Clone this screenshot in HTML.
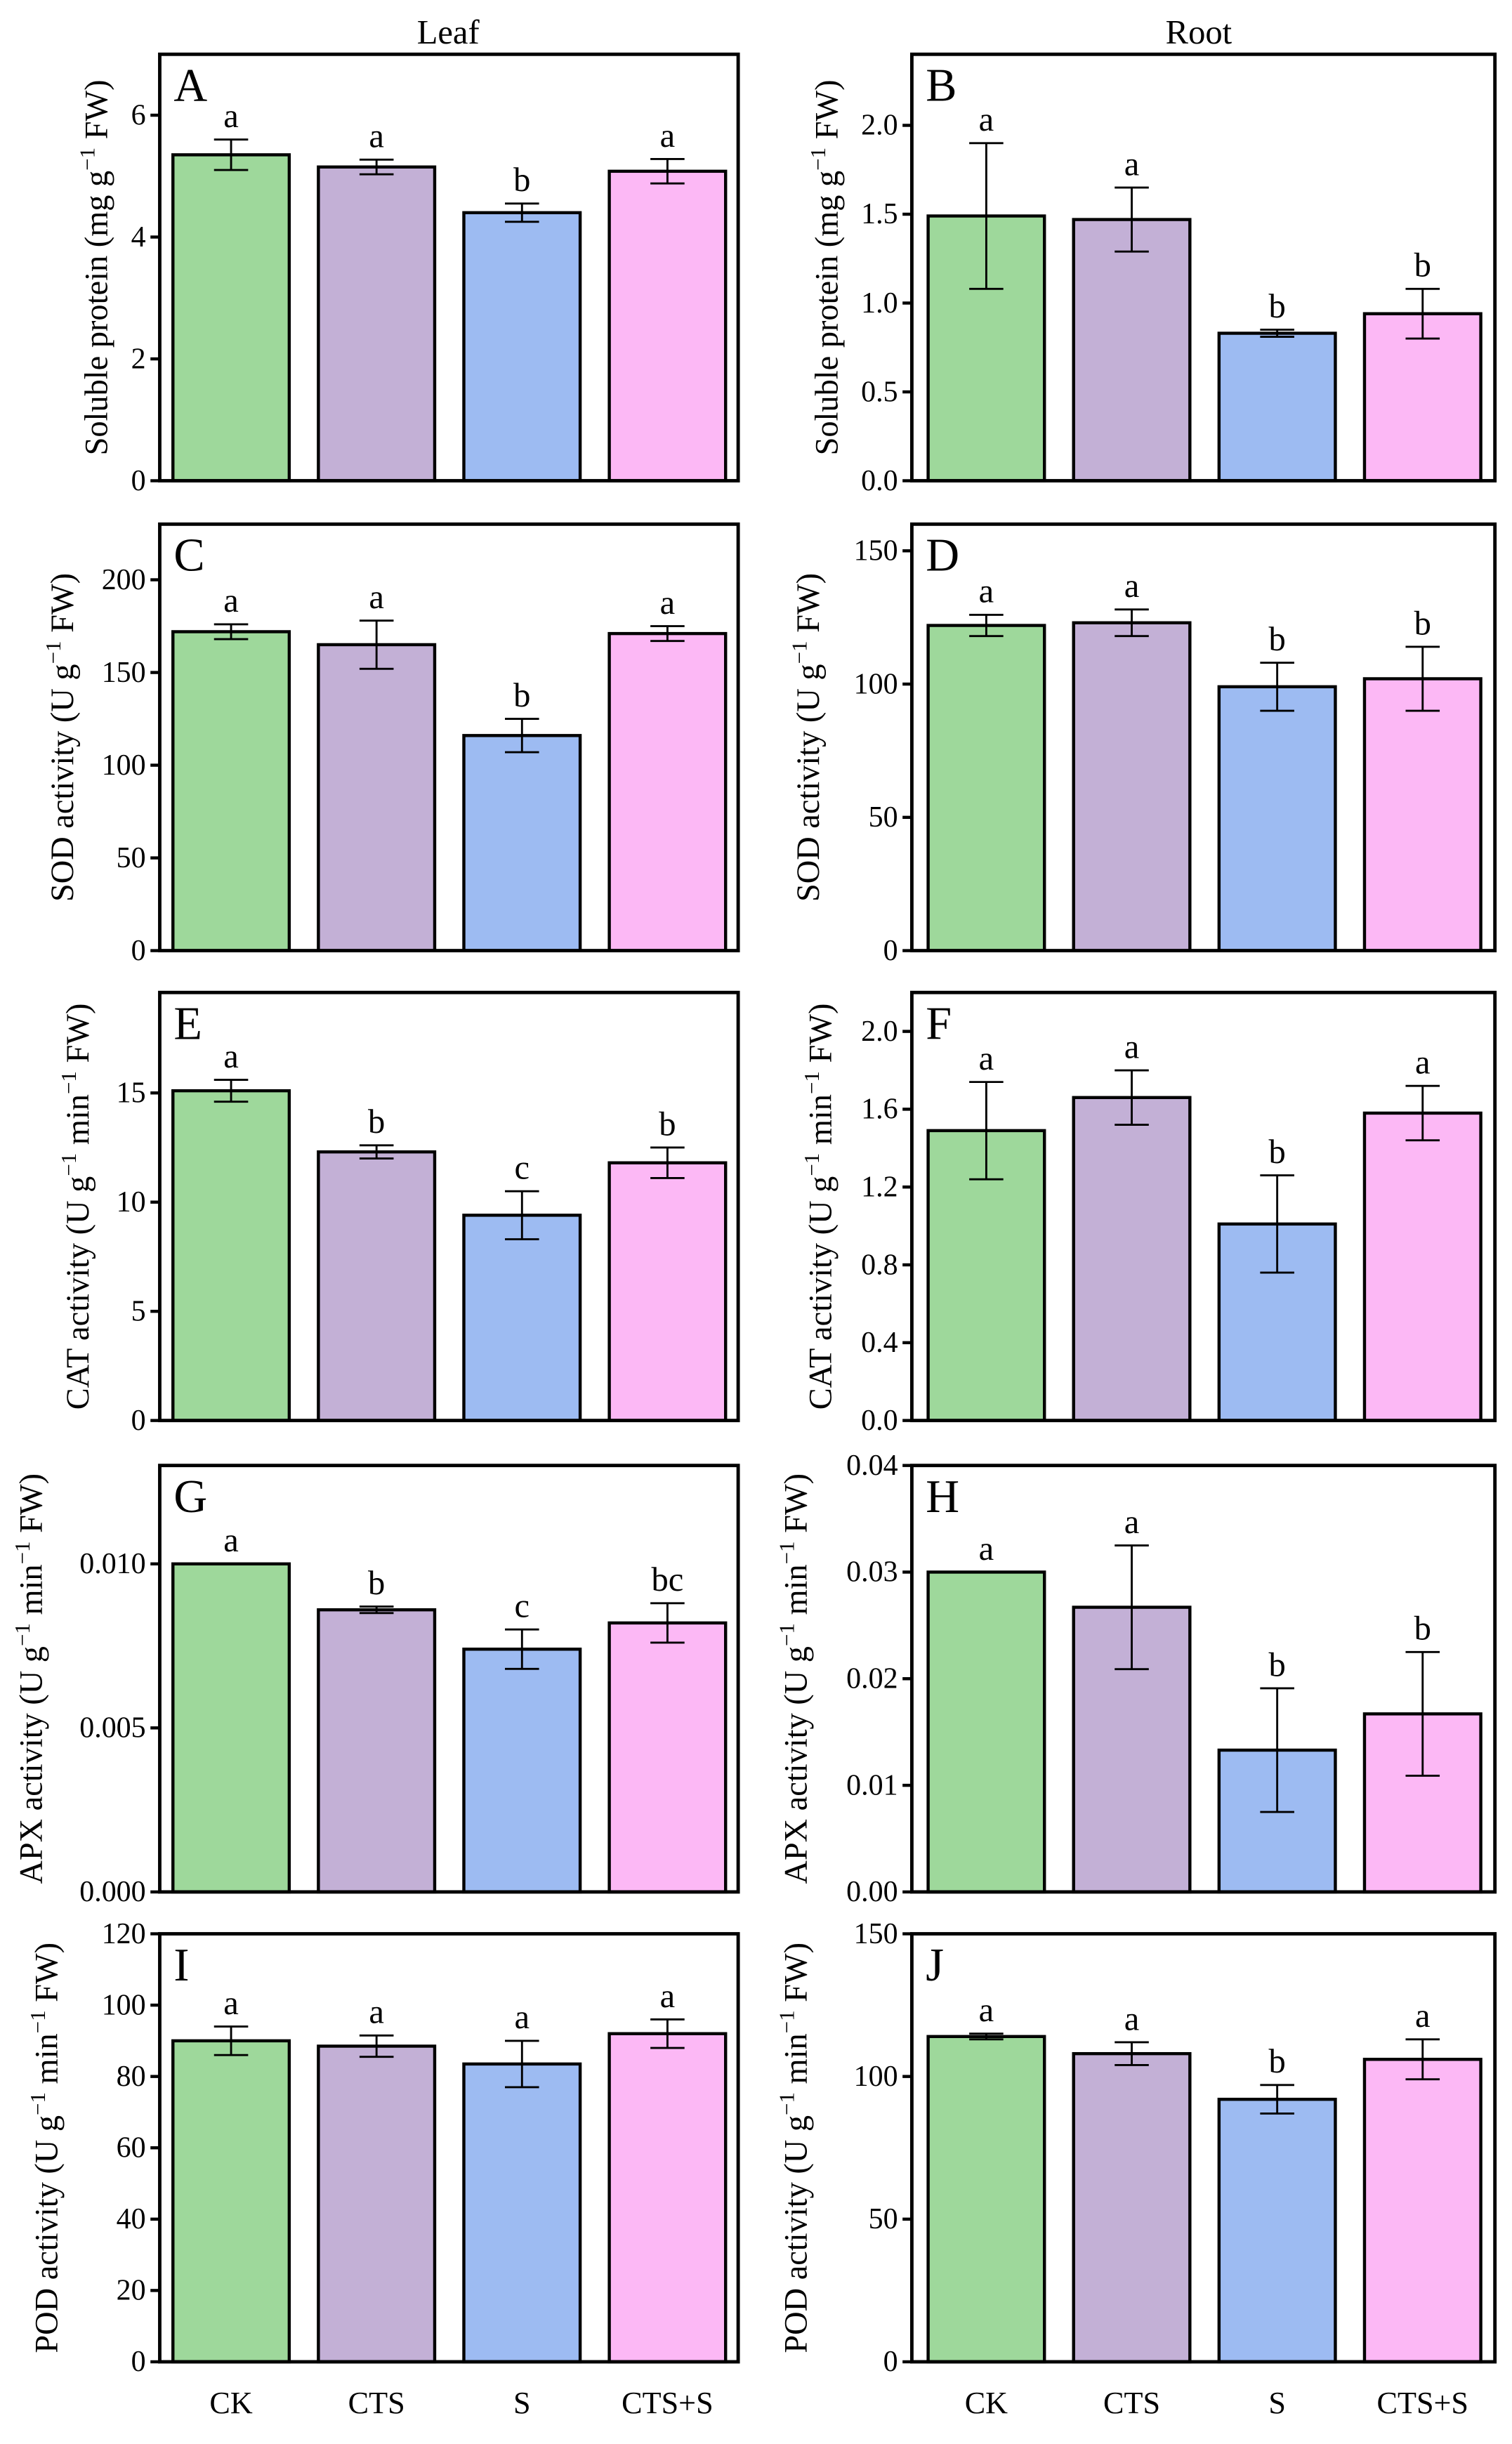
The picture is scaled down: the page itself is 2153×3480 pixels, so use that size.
<!DOCTYPE html>
<html><head><meta charset="utf-8"><style>
html,body{margin:0;padding:0;background:#fff}
svg{display:block}
text{font-family:"Liberation Serif",serif;fill:#000}
</style></head><body>
<svg id="fig" width="2153" height="3480" viewBox="0 0 975 1576" xmlns="http://www.w3.org/2000/svg">
<text x="289" y="28" font-size="22" text-anchor="middle">Leaf</text>
<text x="773" y="28" font-size="22" text-anchor="middle">Root</text>
</svg>
<script>
const categories=["CK","CTS","S","CTS+S"];
const colors=["#9ed89b","#c3b0d6","#9dbbf2","#fcb8f5"];
const valsA=[5.35,5.15,4.4,5.08], errA=[0.25,0.12,0.15,0.2], letA=["a","a","b","a"];
const valsB=[1.49,1.47,0.83,0.94], errB=[0.41,0.18,0.02,0.14], letB=["a","a","b","b"];
const valsC=[172,165,116,171], errC=[4,13,9,4], letC=["a","a","b","a"];
const valsD=[122,123,99,102], errD=[4,5,9,12], letD=["a","a","b","b"];
const valsE=[15.1,12.3,9.4,11.8], errE=[0.5,0.3,1.1,0.7], letE=["a","b","c","b"];
const valsF=[1.49,1.66,1.01,1.58], errF=[0.25,0.14,0.25,0.14], letF=["a","a","b","a"];
const valsG=[0.0100,0.0086,0.0074,0.0082], errG=[0,0.0001,0.0006,0.0006], letG=["a","b","c","bc"];
const valsH=[0.030,0.0267,0.0133,0.0167], errH=[0,0.0058,0.0058,0.0058], letH=["a","a","b","b"];
const valsI=[90,88.5,83.5,92], errI=[4,3,6.5,4], letI=["a","a","a","a"];
const valsJ=[114,108,92,106], errJ=[1,4,5,7], letJ=["a","a","b","a"];
const ticksA=["0","2","4","6"], ticksB=["0.0","0.5","1.0","1.5","2.0"], ticksC=["0","50","100","150","200"],
ticksD=["0","50","100","150"], ticksE=["0","5","10","15"], ticksF=["0.0","0.4","0.8","1.2","1.6","2.0"],
ticksG=["0.000","0.005","0.010"], ticksH=["0.00","0.01","0.02","0.03","0.04"], ticksI=["0","20","40","60","80","100","120"], ticksJ=["0","50","100","150"];

const svg=document.getElementById('fig');
const NS="http://www.w3.org/2000/svg";
function mk(tag,attrs,parent){const e=document.createElementNS(NS,tag);for(const k in attrs)e.setAttribute(k,attrs[k]);(parent||svg).appendChild(e);return e;}
const rows=[[35,310],[338,613],[640,916],[945,1220],[1247,1523]];
const cols=[[103,476],[588,964]];
const offs=[8.5,10.5];
const panels=[
 {id:"A",v:valsA,e:errA,l:letA,t:ticksA,max:7,lab:["Soluble protein (mg g","−1"," FW)"],r:0,c:0,lx:62},
 {id:"B",v:valsB,e:errB,l:letB,t:ticksB,max:2.4,lab:["Soluble protein (mg g","−1"," FW)"],r:0,c:1,lx:533},
 {id:"C",v:valsC,e:errC,l:letC,t:ticksC,max:230,lab:["SOD activity (U g","−1"," FW)"],r:1,c:0,lx:40},
 {id:"D",v:valsD,e:errD,l:letD,t:ticksD,max:160,lab:["SOD activity (U g","−1"," FW)"],r:1,c:1,lx:521},
 {id:"E",v:valsE,e:errE,l:letE,t:ticksE,max:19.6,lab:["CAT activity (U g","−1"," min","−1"," FW)"],r:2,c:0,lx:50},
 {id:"F",v:valsF,e:errF,l:letF,t:ticksF,max:2.2,lab:["CAT activity (U g","−1"," min","−1"," FW)"],r:2,c:1,lx:529},
 {id:"G",v:valsG,e:errG,l:letG,t:ticksG,max:0.013,lab:["APX activity (U g","−1"," min","−1"," FW)"],r:3,c:0,lx:20},
 {id:"H",v:valsH,e:errH,l:letH,t:ticksH,max:0.04,lab:["APX activity (U g","−1"," min","−1"," FW)"],r:3,c:1,lx:513},
 {id:"I",v:valsI,e:errI,l:letI,t:ticksI,max:120,lab:["POD activity (U g","−1"," min","−1"," FW)"],r:4,c:0,lx:30},
 {id:"J",v:valsJ,e:errJ,l:letJ,t:ticksJ,max:150,lab:["POD activity (U g","−1"," min","−1"," FW)"],r:4,c:1,lx:513}
];
panels.forEach(p=>{
 const [y0,y1]=rows[p.r],[x0,x1]=cols[p.c];
 const g=mk('g',{});
 
 
 const ys=v=>y1-(v/p.max)*(y1-y0);
 const bw=75, step=93.8, off=offs[p.c];
 p.v.forEach((v,i)=>{
  const bx=x0+off+i*step;
  const r=mk('rect',{x:bx,y:ys(v),width:bw,height:y1-ys(v),fill:colors[i],stroke:"#000","stroke-width":2},g);
  
  
  const cx=bx+bw/2, e=p.e[i];
  const eb=mk('path',{d:`M${cx} ${ys(v+e)}V${ys(v-e)}M${cx-11} ${ys(v+e)}H${cx+11}M${cx-11} ${ys(v-e)}H${cx+11}`,stroke:"#000","stroke-width":1.3,fill:"none"},g);
  
  
  const lt=mk('text',{x:cx,y:ys(v+e)-8,"font-size":22,"text-anchor":"middle"},g);
  lt.textContent=p.l[i];
  
  
 });
 const fr=mk('rect',{x:x0,y:y0,width:x1-x0,height:y1-y0,fill:"none",stroke:"#000","stroke-width":2.2},g);
 
 
 p.t.forEach(t=>{
  const y=ys(parseFloat(t));
  mk('line',{x1:x0-6,x2:x0,y1:y,y2:y,stroke:"#000","stroke-width":2},g);
  const tt=mk('text',{x:x0-9,y:y+6,"font-size":19,"text-anchor":"end"},g);
  tt.textContent=t;
  
  
 });
 const pl=mk('text',{x:x0+9,y:y0+30,"font-size":30},g);
 pl.textContent=p.id;
 
 
 const cy=(y0+y1)/2;
 const yl=mk('text',{x:0,y:0,"font-size":21,"text-anchor":"middle",transform:`translate(${p.lx+7},${cy}) rotate(-90)`},g);
 
 
 p.lab.forEach((s,k)=>{const ts=mk('tspan',{},yl);ts.textContent=s;if(k%2==1){ts.setAttribute('dy','-8');ts.setAttribute('font-size','14');}else if(k>0){ts.setAttribute('dy','8');}});
 if(p.r===4){
  categories.forEach((c,i)=>{
   const cx=x0+off+i*step+37.5;
   const xt=mk('text',{x:cx,y:y1+33,"font-size":20,"text-anchor":"middle"},g);
   xt.textContent=c;
   
   
  });
 }
});
</script>
</body></html>
